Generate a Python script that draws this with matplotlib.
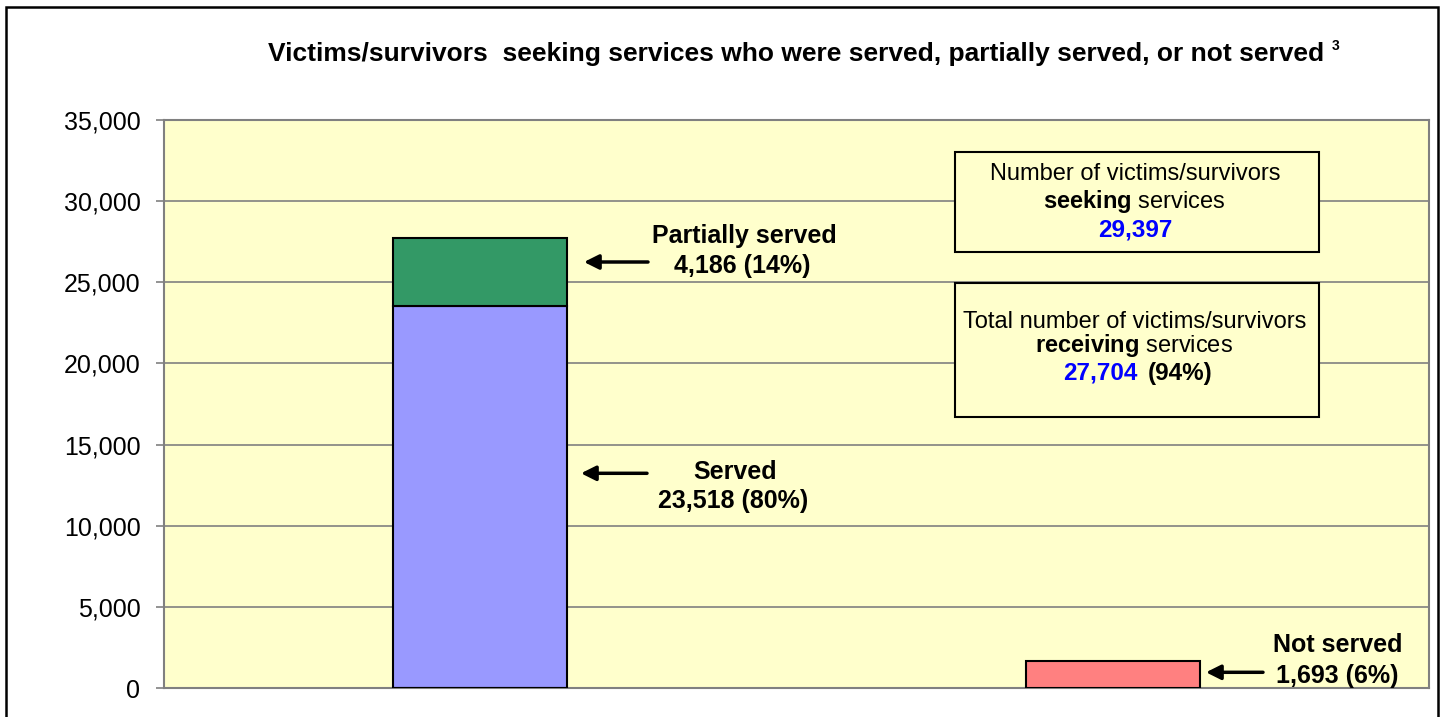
import matplotlib
matplotlib.use("Agg")
import matplotlib.pyplot as plt
from matplotlib.patches import Rectangle
from matplotlib.ticker import FuncFormatter

plt.rcParams['font.family'] = ['Liberation Sans', 'DejaVu Sans']
plt.rcParams['mathtext.fontset'] = 'custom'
plt.rcParams['mathtext.rm'] = 'Liberation Sans'
plt.rcParams['mathtext.bf'] = 'Liberation Sans:bold'

# --- data ---
categories = ["Served / partially served", "Not served"]
served = [23518, 0]
partially_served = [4186, 0]
not_served = [0, 1693]
seeking_total = 29397
receiving_total = 27704
yticks = [0, 5000, 10000, 15000, 20000, 25000, 30000, 35000]

W, H = 1446, 717
fig = plt.figure(figsize=(W / 100, H / 100), dpi=100)
ax = fig.add_axes([164 / W, 29 / H, 1265 / W, 568 / H])
ax.set_facecolor("#FFFFCC")

# pixel helpers for the annotation layout
def px(x):
    return -0.5 + (x - 164) / 1265 * 2

def py(y):
    return (688 - y) / 568 * 35000

x = [0, 1]
w = 0.275
ax.bar(x, served, width=w, color="#9999FF", edgecolor="black", linewidth=1.5, zorder=3)
ax.bar(x, partially_served, width=w, bottom=served, color="#339966",
       edgecolor="black", linewidth=1.5, zorder=3)
ax.bar(x, not_served, width=w, color="#FF8080", edgecolor="black", linewidth=1.5, zorder=3)

ax.set_xlim(-0.5, 1.5)
ax.set_ylim(0, 35000)
ax.set_yticks(yticks)
ax.yaxis.set_major_formatter(FuncFormatter(lambda v, p: f"{int(v):,}"))
ax.set_xticks([])
ax.tick_params(axis="y", length=6, width=1.2, color="#808080", labelsize=18, pad=11)
ax.grid(axis="y", color="#808080", linewidth=1.2, zorder=1)
for s in ax.spines.values():
    s.set_color("#808080")
    s.set_linewidth(1.5)

# --- arrows + labels ---
arr = dict(arrowstyle="-|>", color="black", lw=2.5, mutation_scale=22,
           shrinkA=0, shrinkB=0)
pct = lambda v: round(100 * v / seeking_total)
lbl = dict(ha="center", va="baseline", fontsize=18, fontweight="bold", zorder=5)

ax.annotate("", xy=(px(584), py(262)), xytext=(px(648), py(262)), arrowprops=arr, zorder=4)
ax.text(px(744), py(242.7), "Partially served", **lbl)
ax.text(px(742), py(273.3), f"{partially_served[0]:,} ({pct(partially_served[0])}%)", **lbl)

ax.annotate("", xy=(px(581), py(473.3)), xytext=(px(647), py(473.3)), arrowprops=arr, zorder=4)
ax.text(px(735), py(479.3), "Served", **lbl)
ax.text(px(733), py(508.3), f"{served[0]:,} ({pct(served[0])}%)", **lbl)

ax.annotate("", xy=(px(1206), py(672.3)), xytext=(px(1263), py(672.3)), arrowprops=arr, zorder=4)
ax.text(px(1338), py(651.7), "Not served", **lbl)
ax.text(px(1337), py(683), f"{not_served[1]:,} ({pct(not_served[1])}%)", **lbl)

# --- info boxes ---
for top, bot in [(152, 252), (283, 417)]:
    ax.add_patch(Rectangle((px(955), py(bot)), px(1319) - px(955), py(top) - py(bot),
                           facecolor="#FFFFCC", edgecolor="black", linewidth=1.5, zorder=4))

box = dict(va="baseline", fontsize=17, zorder=5)
ax.text(px(1135), py(180), "Number of victims/survivors", ha="center", **box)
ax.text(px(1134), py(208.3), r"$\mathbf{seeking}$ services", ha="center", **box)
ax.text(px(1135), py(236.7), f"{seeking_total:,}", ha="center", va="baseline", fontsize=17.5,
        fontweight="bold", color="#0000FF", zorder=5)

ax.text(px(1135), py(328.3), "Total number of victims/survivors", ha="center", **box)
ax.text(px(1134), py(351.7), r"$\mathbf{receiving}$ services", ha="center", **box)
ax.text(px(1137), py(380), f"{receiving_total:,}", ha="right", va="baseline", fontsize=17.5,
        fontweight="bold", color="#0000FF", zorder=5)
ax.text(px(1148), py(380), f"({pct(receiving_total)}%)", ha="left", va="baseline", fontsize=17.5,
        fontweight="bold", zorder=5)

# --- title ---
title = fig.text(796 / W, 1 - 60.7 / H,
                 "Victims/survivors  seeking services who were served, partially served, or not served",
                 ha="center", va="baseline", fontsize=19, fontweight="bold")
fig.canvas.draw()
bb = title.get_window_extent()
fig.text((bb.x1 + 8) / W, 1 - 50 / H, "3", ha="left", va="baseline", fontsize=10, fontweight="bold")

# outer frame
fig.patches.append(Rectangle((6 / W, -0.05), 1432 / W, 1.05 - 7 / H,
                             transform=fig.transFigure, fill=False,
                             edgecolor="black", linewidth=1.8))

fig.savefig("out.png", dpi=100)
